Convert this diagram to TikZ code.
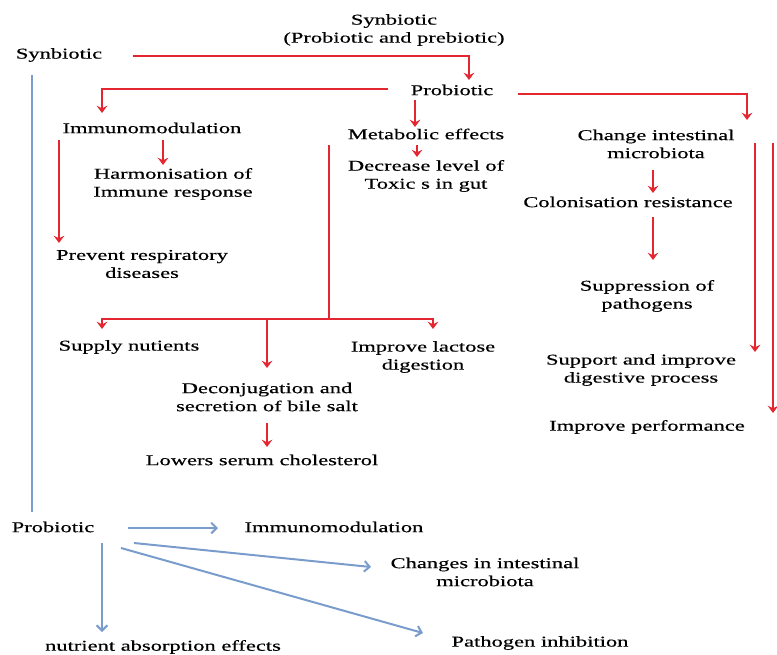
\documentclass[tikz,border=0pt]{standalone}
\usepackage{xcolor}
\usepackage{fontspec}
\setmainfont[FakeStretch=1.5, FakeBold=0.4]{Liberation Serif}
\usepackage{tikz}
\usetikzlibrary{calc}
\usetikzlibrary{arrows.meta}
\definecolor{flowred}{RGB}{228,38,48}
\definecolor{flowblue}{RGB}{122,156,204}
\tikzstyle{txt} = [draw=none, inner sep = 0, align = center, font = \fontsize{11.25}{13.5}\selectfont]
\tikzstyle{redline} = [draw = flowred, line width = 1.4pt]
\tikzstyle{redarrow} = [redline, -{Stealth[length=5.5pt, width=8pt, inset=2pt]}]
\tikzstyle{blueline} = [draw = flowblue, line width = 1.5pt]
\tikzstyle{bluearrow} = [blueline, -{Straight Barb[length=4pt, width=8pt]}]

\begin{document}
\begin{tikzpicture}[x = 0.75pt, y = -0.75pt]
\useasboundingbox (0, 0) rectangle (777, 654);
\node [txt] (synT) at (394, 30) {Synbiotic\\(Probiotic and prebiotic)};
\node [txt] (synL) at (59, 55) {Synbiotic};
\node [txt] (prob) at (452, 90) {Probiotic};
\node [txt] (immT) at (152, 128) {Immunomodulation};
\node [txt] (meta) at (426, 134) {Metabolic effects};
\node [txt] (decr) at (426, 176) {Decrease level of\\Toxic s in gut};
\node [txt] (chg) at (656, 144) {Change intestinal\\microbiota};
\node [txt] (harm) at (173, 184) {Harmonisation of\\Immune response};
\node [txt] (col) at (628, 202) {Colonisation resistance};
\node [txt] (prev) at (142, 264) {Prevent respiratory\\diseases};
\node [txt] (sup) at (647, 296) {Suppression of\\pathogens};
\node [txt] (supply) at (129, 347) {Supply nutients};
\node [txt] (lact) at (423, 357) {Improve lactose\\digestion};
\node [txt] (deconj) at (267, 397) {Deconjugation and\\secretion of bile salt};
\node [txt] (supp) at (641, 370) {Support and improve\\digestive process};
\node [txt] (perf) at (647, 427) {Improve performance};
\node [txt] (lowers) at (262, 460) {Lowers serum cholesterol};
\node [txt] (probB) at (53, 527) {Probiotic};
\node [txt] (immB) at (334, 527) {Immunomodulation};
\node [txt] (chgB) at (485, 572) {Changes in intestinal\\microbiota};
\node [txt] (path) at (540, 643) {Pathogen inhibition};
\node [txt] (nutr) at (163, 647) {nutrient absorption effects};
\coordinate (fork) at ($(meta) + (-97, 185)$);
% red tree
\draw [redarrow] ($(synL) + (74, 1)$) -| ($(prob) + (17, -10)$);
\draw [redarrow] ($(prob) + (-64, -1)$) -| ($(immT) + (-50, -15)$);
\draw [redarrow] ($(prob) + (-37, 10)$) -- ($(meta) + (-11, -7)$);
\draw [redarrow] ($(prob) + (66, 4)$) -| ($(chg) + (91, -24)$);
\draw [redarrow] ($(immT) + (11, 12)$) -- ($(harm) + (-10, -19)$);
\draw [redarrow] ($(immT) + (-93, 12)$) -- ($(prev) + (-83, -21)$);
\draw [redarrow] ($(meta) + (-9, 11)$) -- ($(decr) + (-9, -19)$);
\draw [redline] ($(meta) + (-97, 11)$) -- (fork);
\draw [redarrow] (fork) -| ($(supply) + (-27, -18)$);
\draw [redarrow] (fork) -| ($(lact) + (10, -28)$);
\draw [redarrow] (fork -| deconj) -- ($(deconj) + (0, -29)$);
\draw [redarrow] ($(deconj) + (0, 26)$) -- ($(lowers) + (5, -13)$);
\draw [redarrow] ($(chg) + (-3, 26)$) -- ($(col) + (25, -9)$);
\draw [redarrow] ($(col) + (25, 15)$) -- ($(sup) + (6, -36)$);
\draw [redarrow] ($(chg) + (99, -1)$) -- ($(supp) + (114, -18)$);
\draw [redarrow] ($(chg) + (117, -1)$) -- ($(perf) + (126, -14)$);
% blue part
\draw [blueline] ($(synL) + (-27, 20)$) -- ($(probB) + (-21, -15)$);
\draw [bluearrow] ($(probB) + (75, 1)$) -- ($(immB) + (-116, 1)$);
\draw [bluearrow] ($(probB) + (81, 16)$) -- ($(chgB) + (-114, -5)$);
\draw [bluearrow] ($(probB) + (68, 21)$) -- ($(path) + (-117, -10)$);
\draw [bluearrow] ($(probB) + (49, 16)$) -- ($(nutr) + (-61, -15)$);
\end{tikzpicture}
\end{document}
